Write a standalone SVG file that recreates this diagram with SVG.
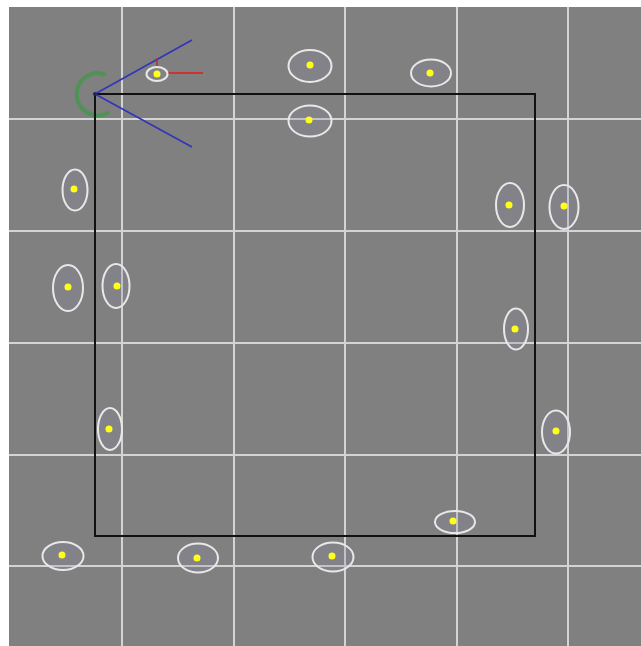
<svg xmlns="http://www.w3.org/2000/svg" width="641" height="646" viewBox="0 0 641 646">
<style>
.grid{stroke:#d4d4d4;stroke-width:2;fill:none}
.ring{fill:#8a88a0;fill-opacity:0.25;stroke:#e8e8e8;stroke-width:2}
.dot{fill:#ffff1a}
</style>
<rect x="0" y="0" width="641" height="646" fill="#ffffff"/>
<rect x="9" y="7" width="632" height="639" fill="#808080"/>
<g id="grid" class="grid">
<line x1="122" y1="7" x2="122" y2="646"/>
<line x1="234" y1="7" x2="234" y2="646"/>
<line x1="345" y1="7" x2="345" y2="646"/>
<line x1="457" y1="7" x2="457" y2="646"/>
<line x1="568" y1="7" x2="568" y2="646"/>
<line x1="9" y1="119" x2="641" y2="119"/>
<line x1="9" y1="231" x2="641" y2="231"/>
<line x1="9" y1="343" x2="641" y2="343"/>
<line x1="9" y1="455" x2="641" y2="455"/>
<line x1="9" y1="566" x2="641" y2="566"/>
</g>
<g id="gizmo-arc">
<path d="M106 75 A21 21 0 1 0 109 112" fill="none" stroke="#3c9a44" stroke-width="4" stroke-opacity="0.7"/>
</g>
<g id="square">
<rect x="95" y="94" width="440" height="442" fill="none" stroke="#111" stroke-width="2"/>
</g>
<g id="gizmo">
<line x1="95" y1="94" x2="192" y2="40" stroke="#3333bb" stroke-width="1.6"/>
<line x1="95" y1="94" x2="192" y2="147" stroke="#3333bb" stroke-width="1.6"/>
<line x1="168" y1="73" x2="203" y2="73" stroke="#cc3333" stroke-width="2"/>
<line x1="157" y1="58" x2="157" y2="68" stroke="#aa3333" stroke-width="1.5"/>
<circle cx="95" cy="94" r="2" fill="#222266"/>
</g>
<g id="points">
<g id="p1"><ellipse class="ring" cx="157" cy="74" rx="10.5" ry="7"/><circle class="dot" cx="157" cy="74" r="3.5"/></g>
<g id="p2"><ellipse class="ring" cx="310" cy="66" rx="21.5" ry="16"/><circle class="dot" cx="310" cy="65" r="3.5"/></g>
<g id="p3"><ellipse class="ring" cx="431" cy="73" rx="20" ry="13.5"/><circle class="dot" cx="430" cy="73" r="3.5"/></g>
<g id="p4"><ellipse class="ring" cx="310" cy="121" rx="21.5" ry="15.5"/><circle class="dot" cx="309" cy="120" r="3.5"/></g>
<g id="p5"><ellipse class="ring" cx="510" cy="205" rx="14" ry="22"/><circle class="dot" cx="509" cy="205" r="3.5"/></g>
<g id="p6"><ellipse class="ring" cx="564" cy="207" rx="14.5" ry="22"/><circle class="dot" cx="564" cy="206" r="3.5"/></g>
<g id="p7"><ellipse class="ring" cx="75" cy="190" rx="12.5" ry="20.5"/><circle class="dot" cx="74" cy="189" r="3.5"/></g>
<g id="p8"><ellipse class="ring" cx="68" cy="288" rx="15" ry="23"/><circle class="dot" cx="68" cy="287" r="3.5"/></g>
<g id="p9"><ellipse class="ring" cx="116" cy="286" rx="13.5" ry="22"/><circle class="dot" cx="117" cy="286" r="3.5"/></g>
<g id="p10"><ellipse class="ring" cx="110" cy="429" rx="12" ry="21"/><circle class="dot" cx="109" cy="429" r="3.5"/></g>
<g id="p11"><ellipse class="ring" cx="516" cy="329" rx="12" ry="20.5"/><circle class="dot" cx="515" cy="329" r="3.5"/></g>
<g id="p12"><ellipse class="ring" cx="556" cy="432" rx="14" ry="21.5"/><circle class="dot" cx="556" cy="431" r="3.5"/></g>
<g id="p13"><ellipse class="ring" cx="455" cy="522" rx="20" ry="11"/><circle class="dot" cx="453" cy="521" r="3.5"/></g>
<g id="p14"><ellipse class="ring" cx="333" cy="557" rx="20.5" ry="14.5"/><circle class="dot" cx="332" cy="556" r="3.5"/></g>
<g id="p15"><ellipse class="ring" cx="63" cy="556" rx="20.5" ry="14"/><circle class="dot" cx="62" cy="555" r="3.5"/></g>
<g id="p16"><ellipse class="ring" cx="198" cy="558" rx="20" ry="14.5"/><circle class="dot" cx="197" cy="558" r="3.5"/></g>
</g>
</svg>
